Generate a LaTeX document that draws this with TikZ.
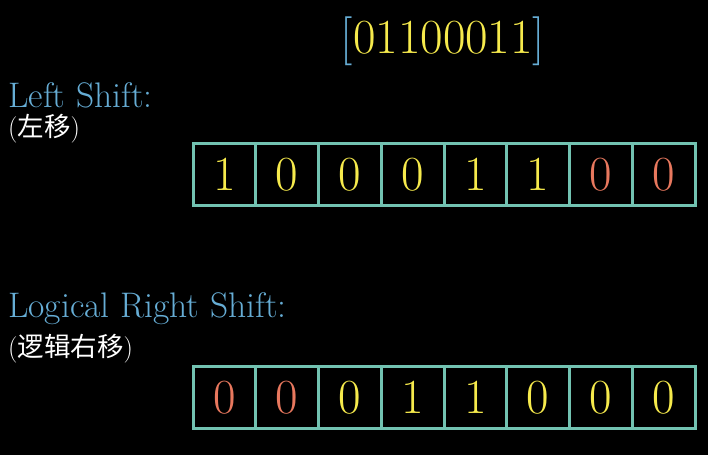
\documentclass[tikz,border=0pt]{standalone}
\usepackage{fontspec}
\newfontfamily\cjk{Noto Sans CJK SC}
\usetikzlibrary{positioning}
\definecolor{Board}{HTML}{000000}
\definecolor{Label}{HTML}{66ADD5}
\definecolor{Bit}{HTML}{F6EA4C}
\definecolor{Pad}{HTML}{E8785E}
\definecolor{Frame}{HTML}{72C2B1}
\tikzset{
  cell/.style={
    draw=Frame, line width=3pt, inner sep=0pt,
    minimum width=62.75pt, minimum height=62pt,
    font=\fontsize{49}{49}\selectfont
  },
  heading/.style={anchor=base west, inner sep=0pt, text=Label, font=\fontsize{35.5}{36}\selectfont},
  note/.style={anchor=base west, inner sep=0pt, text=white, font=\fontsize{26.5}{27}\selectfont}
}

\begin{document}
\begin{tikzpicture}[x=1pt,y=-1pt]
    \fill[Board] (0,0) rectangle (708,455);
    \useasboundingbox (0,0) rectangle (708,455);
    % source byte
    \node[anchor=base, inner sep=0pt, font=\fontsize{49}{49}\selectfont] (byte) at (443,53)
      {\textcolor{Label}{[}\textcolor{Bit}{01100011}\textcolor{Label}{]}};
    % left shift
    \node[heading] (lefthead) at (8,107) {Left Shift:};
    \node[note] (leftnote) at (8,136) {({\cjk 左移})};
    \foreach \b/\c [count=\i] in {1/Bit,0/Bit,0/Bit,0/Bit,1/Bit,1/Bit,0/Pad,0/Pad}
      \node[cell, text=\c] (left\i) at ({193+62.75*(\i-0.5)},174.5) {\b};
    % logical right shift
    \node[heading] (righthead) at (8,317) {Logical Right Shift:};
    \node[note] (rightnote) at (8,356) {({\cjk 逻辑右移})};
    \foreach \b/\c [count=\i] in {0/Pad,0/Pad,0/Bit,1/Bit,1/Bit,0/Bit,0/Bit,0/Bit}
      \node[cell, text=\c] (right\i) at ({193+62.75*(\i-0.5)},397.5) {\b};
  \end{tikzpicture}
\end{document}
